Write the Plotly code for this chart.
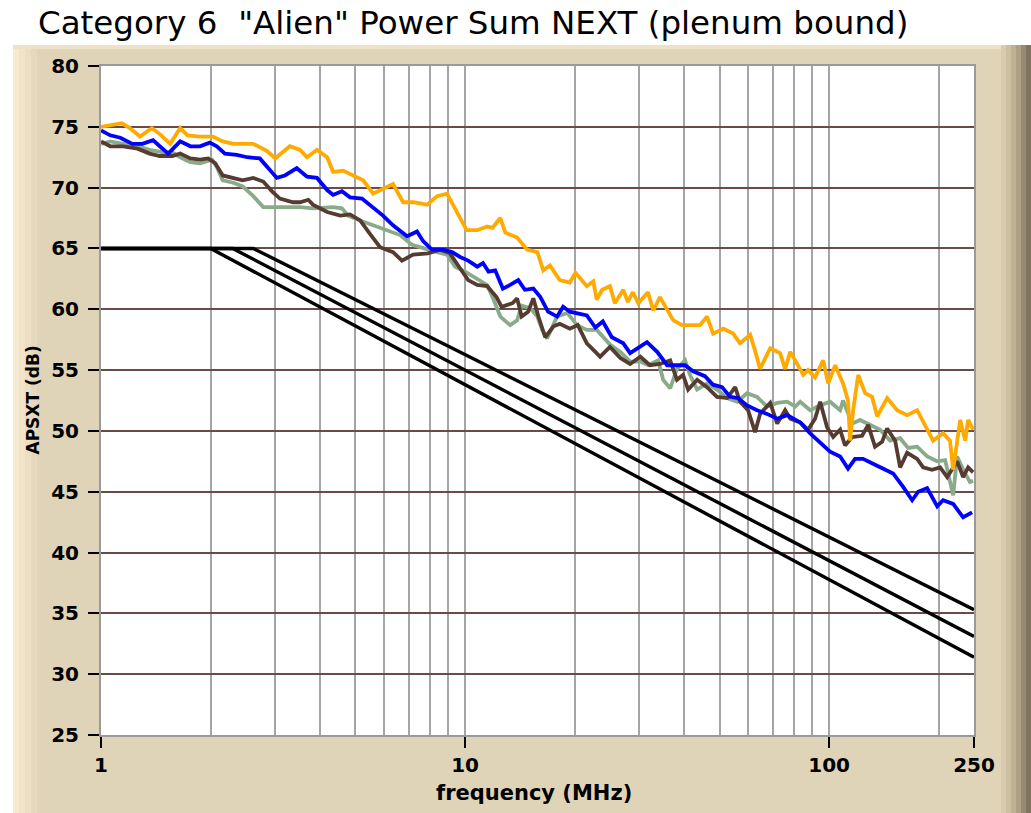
import plotly.graph_objects as go

# ---------------- data ----------------
orange_f = [1.0, 1.06, 1.14, 1.20, 1.28, 1.38, 1.45, 1.55, 1.65, 1.73, 1.87, 2.03, 2.16, 2.31, 2.62, 2.86,
            3.01, 3.30, 3.52, 3.68, 3.92, 4.18, 4.34, 4.62, 4.92, 5.25, 5.59, 5.95, 6.34, 6.76, 7.20, 7.87,
            8.38, 8.92, 9.51, 10.1, 10.8, 11.5, 11.9, 12.5, 12.9, 13.9, 14.8, 15.8, 16.4, 17.1, 18.2, 19.4,
            20.1, 21.6, 22.5, 23.0, 23.8, 25.0, 25.8, 27.2, 28.0, 28.9, 29.9, 31.8, 32.9, 34.3, 37.3, 39.4,
            41.5, 44.2, 46.2, 48.0, 51.2, 54.5, 56.9, 60.7, 62.6, 64.6, 68.9, 73.3, 75.7, 78.2, 80.7, 84.9,
            87.5, 91.5, 96.3, 99.4, 103.9, 109.2, 112.7, 114.2, 116.4, 120.2, 125.6, 131.2, 135.5, 144.3,
            153.7, 163.8, 174.5, 185.9, 193.0, 205.6, 214.8, 219.1, 224.7, 229.1, 236.4, 240.9, 248.6]
orange_db = [75.0, 75.1, 75.3, 74.9, 74.2, 74.9, 74.4, 73.6, 74.9, 74.3, 74.2, 74.2, 73.8, 73.6, 73.6, 73.0,
             72.4, 73.4, 73.1, 72.5, 73.1, 72.5, 71.3, 71.4, 71.0, 70.6, 69.5, 69.9, 70.3, 68.8, 68.8, 68.6,
             69.3, 69.5, 67.9, 66.5, 66.5, 66.8, 66.7, 67.5, 66.3, 65.9, 64.9, 64.7, 63.2, 63.6, 62.4, 62.2,
             63.0, 61.9, 62.3, 60.8, 61.6, 61.9, 60.5, 61.6, 60.6, 61.4, 60.5, 61.4, 59.9, 61.0, 59.1, 58.7,
             58.7, 58.7, 59.4, 58.0, 58.4, 58.0, 57.2, 57.9, 56.6, 55.1, 56.8, 56.4, 55.1, 56.5, 55.8, 54.6,
             55.0, 54.4, 55.8, 53.9, 55.4, 53.9, 52.5, 49.2, 51.7, 54.6, 53.1, 52.8, 51.2, 52.7,
             51.7, 51.3, 51.7, 50.1, 49.2, 49.8, 49.2, 46.8, 49.2, 50.9, 49.2, 50.9, 50.1]

blue_f = [1.0, 1.06, 1.13, 1.22, 1.30, 1.39, 1.45, 1.53, 1.65, 1.76, 1.87, 1.99, 2.08, 2.19, 2.36, 2.52,
          2.73, 2.86, 3.04, 3.20, 3.45, 3.68, 3.92, 4.18, 4.34, 4.59, 4.83, 5.21, 5.59, 5.95, 6.34, 6.93,
          7.38, 7.67, 8.11, 8.70, 9.21, 9.69, 10.2, 10.8, 11.2, 11.6, 12.1, 12.7, 13.3, 14.0, 14.6, 15.4,
          16.1, 16.9, 17.9, 18.6, 19.4, 20.3, 21.6, 22.8, 23.9, 25.3, 27.2, 28.4, 29.7, 31.6, 33.7, 35.9,
          38.2, 40.2, 42.3, 45.6, 48.0, 50.8, 53.5, 56.2, 59.5, 63.4, 67.5, 72.0, 76.7, 79.6, 83.3, 88.7,
          94.5, 100.6, 107.2, 112.7, 117.8, 123.9, 132.0, 140.7, 149.9, 159.7, 169.1, 175.6, 185.9, 198.1,
          205.6, 219.1, 233.4, 247.0]
blue_db = [74.7, 74.3, 74.1, 73.6, 73.6, 73.9, 73.4, 72.8, 73.8, 73.4, 73.4, 73.7, 73.4, 72.8, 72.7, 72.5,
           72.4, 71.7, 70.8, 71.0, 71.6, 70.9, 70.8, 69.8, 69.4, 69.7, 69.2, 69.1, 68.4, 67.7, 66.9, 66.0,
           66.4, 65.6, 64.9, 64.9, 64.7, 64.3, 64.0, 63.5, 63.8, 63.1, 63.2, 61.7, 62.0, 62.4, 61.6, 61.7,
           61.0, 59.8, 59.4, 60.2, 59.8, 59.7, 59.5, 58.5, 59.0, 57.7, 57.2, 56.4, 56.8, 57.3, 56.5, 55.4,
           55.4, 55.4, 54.9, 54.5, 53.8, 53.6, 52.8, 52.7, 52.1, 51.7, 51.4, 51.0, 51.3, 51.0, 50.7, 49.8,
           49.0, 48.3, 47.9, 46.9, 47.7, 47.7, 47.3, 46.9, 46.5, 45.4, 44.3, 45.0, 45.3, 43.8,
           44.3, 44.0, 42.9, 43.3]

brown_f = [1.0, 1.06, 1.15, 1.26, 1.36, 1.45, 1.57, 1.65, 1.76, 1.87, 1.97, 2.06, 2.16, 2.31, 2.45, 2.62,
           2.79, 2.95, 3.10, 3.37, 3.52, 3.71, 3.82, 4.18, 4.54, 4.83, 5.15, 5.48, 5.84, 6.34, 6.71, 7.20,
           7.91, 8.54, 9.09, 9.57, 10.2, 10.8, 11.5, 12.2, 12.6, 13.5, 13.9, 14.3, 14.9, 15.4, 15.9, 16.6,
           17.5, 18.2, 19.4, 20.4, 21.6, 22.8, 23.5, 25.0, 26.7, 28.4, 30.3, 32.2, 34.3, 36.6, 38.2, 39.7,
           41.0, 43.4, 46.2, 49.2, 52.5, 55.2, 56.9, 59.9, 62.6, 64.6, 68.9, 72.0, 75.7, 78.2, 83.3, 87.5,
           91.5, 94.5, 98.7, 102.6, 107.2, 110.6, 115.6, 123.2, 128.0, 133.7, 139.8, 144.3, 151.8, 156.7,
           163.8, 174.5, 181.2, 191.7, 201.8, 211.0, 224.7, 233.4, 240.9, 248.6]
brown_db = [73.8, 73.4, 73.4, 73.2, 72.8, 72.6, 72.6, 72.8, 72.4, 72.3, 72.4, 72.0, 71.0, 70.8, 70.6, 70.8,
            70.5, 69.7, 69.1, 68.8, 68.8, 69.0, 68.6, 68.0, 67.7, 67.8, 67.3, 66.2, 65.1, 64.7, 64.0, 64.5,
            64.6, 64.9, 64.6, 63.6, 62.4, 62.0, 61.9, 61.0, 60.2, 60.5, 60.9, 59.4, 59.8, 60.9, 59.4, 57.7,
            58.6, 58.8, 58.4, 58.7, 57.2, 56.5, 56.1, 56.9, 56.0, 55.5, 56.1, 55.4, 55.5, 55.8, 54.2, 54.6,
            53.4, 54.2, 53.6, 52.8, 52.7, 53.6, 52.4, 51.7, 49.9, 51.4, 52.3, 50.6, 51.7, 51.0, 50.7, 50.1,
            51.0, 52.4, 50.3, 49.5, 50.1, 48.8, 49.5, 49.6, 50.5, 48.7, 49.1, 50.2, 49.2, 47.0,
            48.2, 47.7, 47.0, 46.8, 47.0, 46.2, 47.5, 46.2, 47.0, 46.6]

green_f = [1.0, 1.06, 1.15, 1.26, 1.36, 1.48, 1.57, 1.65, 1.76, 1.87, 2.02, 2.08, 2.16, 2.31, 2.45, 2.62,
           2.79, 3.10, 3.52, 3.82, 4.34, 4.59, 4.77, 5.15, 5.59, 6.11, 6.63, 7.15, 7.67, 8.38, 8.92, 9.39,
           10.0, 10.8, 11.5, 11.9, 12.5, 13.3, 13.9, 14.3, 15.1, 15.8, 16.3, 16.8, 17.9, 19.1, 20.3, 21.6,
           23.0, 23.5, 25.0, 26.7, 28.4, 30.3, 31.8, 33.9, 35.0, 36.6, 38.2, 40.2, 41.5, 43.4, 46.2, 49.2,
           52.5, 55.9, 59.5, 63.4, 67.5, 72.0, 76.7, 80.7, 83.3, 88.7, 94.5, 100.6, 107.2, 109.2, 115.6,
           121.6, 129.6, 138.1, 147.1, 156.7, 164.8, 174.5, 185.9, 198.1, 208.3, 219.1, 224.7, 233.4,
           243.8, 248.6]
green_db = [73.6, 73.8, 73.6, 73.4, 73.1, 72.9, 72.9, 72.5, 72.1, 72.0, 72.3, 71.7, 70.6, 70.4, 70.1, 69.3,
            68.4, 68.4, 68.4, 68.3, 68.4, 68.3, 67.7, 67.3, 66.9, 66.5, 66.1, 65.3, 65.0, 64.7, 64.5, 63.5,
            63.1, 62.5, 62.0, 61.0, 59.4, 58.7, 59.1, 60.3, 60.1, 59.4, 58.3, 57.6, 59.4, 59.7, 58.7, 58.3,
            58.3, 58.0, 57.1, 56.5, 55.7, 55.7, 55.4, 55.8, 54.2, 53.5, 55.1, 55.8, 54.6, 53.4, 53.9, 53.4,
            52.7, 52.4, 53.1, 52.8, 52.0, 52.3, 52.4, 52.0, 52.4, 51.7, 52.1, 52.4, 51.7, 52.5, 50.6,
            50.9, 50.5, 50.1, 49.2, 49.4, 48.6, 48.7, 47.9, 47.5, 47.6, 44.7, 47.9, 46.8,
            45.8, 45.9]

# three limit lines: (frequency, dB) vertices
limit_f = [[1.0, 2.62, 250.0], [1.0, 2.30, 250.0], [1.0, 2.0, 250.0]]
limit_db = [[65.0, 65.0, 35.3], [65.0, 65.0, 33.1], [65.0, 65.0, 31.4]]

x_tickvals = [1, 10, 100, 250]
x_ticktext = ["1", "10", "100", "250"]
x_minor = [2, 3, 4, 5, 6, 7, 8, 9, 20, 30, 40, 50, 60, 70, 80, 90, 200]
y_tickvals = [25, 30, 35, 40, 45, 50, 55, 60, 65, 70, 75, 80]

title_text = 'Category 6  "Alien" Power Sum NEXT (plenum bound)'
x_title = "frequency (MHz)"
y_title = "APSXT (dB)"

# ---------------- figure ----------------
fig = go.Figure()

for fx, fy in zip(limit_f, limit_db):
    fig.add_trace(go.Scatter(x=fx, y=fy, mode="lines",
                             line=dict(color="black", width=3.4), hoverinfo="skip"))

series = [
    (green_f, green_db, "#8aab8a"),
    (brown_f, brown_db, "#553b30"),
    (blue_f, blue_db, "#0000ff"),
    (orange_f, orange_db, "#ffaa00"),
]
for fx, fy, col in series:
    fig.add_trace(go.Scatter(x=fx, y=fy, mode="lines",
                             line=dict(color=col, width=3.8, shape="linear")))

W, H = 1031, 813
L, R, T, B = 101, 974, 66, 735


def px(xp):
    return (xp - L) / (R - L)


def py(yp):
    return (B - yp) / (B - T)


shapes = []
# tan panel
shapes.append(dict(type="rect", xref="paper", yref="paper", layer="below",
                   x0=px(13), x1=px(1031), y0=py(813), y1=py(45),
                   fillcolor="#e0d4b8", line=dict(width=0)))
# left light gradient strip
left_cols = ["#f6ead0", "#f1e4c8", "#ebdec2", "#e5d8bc"]
for i, c in enumerate(left_cols):
    shapes.append(dict(type="rect", xref="paper", yref="paper", layer="below",
                       x0=px(13 + i * 6), x1=px(19 + i * 6), y0=py(813), y1=py(45),
                       fillcolor=c, line=dict(width=0)))
# top light edge
shapes.append(dict(type="rect", xref="paper", yref="paper", layer="below",
                   x0=px(13), x1=px(1031), y0=py(49), y1=py(45),
                   fillcolor="#ede2c8", line=dict(width=0)))
# right dark gradient strip
right_cols = ["#d8cbae", "#cdbfa2", "#bfb194", "#ad9f83", "#978a70", "#80745e"]
for i, c in enumerate(right_cols):
    shapes.append(dict(type="rect", xref="paper", yref="paper", layer="below",
                       x0=px(1001 + i * 5), x1=px(1006 + i * 5), y0=py(813), y1=py(45),
                       fillcolor=c, line=dict(width=0)))
# white plot area
shapes.append(dict(type="rect", xref="paper", yref="paper", layer="below",
                   x0=0, x1=1, y0=0, y1=1, fillcolor="white", line=dict(width=0)))

tickfont = dict(family="DejaVu Sans", size=20, color="black", weight="bold")

fig.update_layout(
    width=W, height=H,
    margin=dict(l=L, r=W - R, t=T, b=H - B, pad=0),
    paper_bgcolor="white",
    plot_bgcolor="white",
    showlegend=False,
    shapes=shapes,
    title=dict(text=title_text, font=dict(family="DejaVu Sans", size=32.5, color="black"),
               xref="container", x=38 / W, xanchor="left",
               yref="container", y=1 - 23 / H, yanchor="middle"),
    annotations=[
        dict(text=y_title, xref="paper", yref="paper", x=px(32), y=0.5, textangle=-90,
             showarrow=False, xanchor="center", yanchor="middle",
             font=dict(family="DejaVu Sans", size=17, color="black", weight="bold")),
        dict(text=x_title, xref="paper", yref="paper", x=px(534), y=py(793),
             showarrow=False, xanchor="center", yanchor="middle",
             font=dict(family="DejaVu Sans", size=21, color="black", weight="bold")),
    ],
)

fig.update_xaxes(
    type="log", range=[0, 2.39794], tickmode="array",
    tickvals=x_tickvals, ticktext=x_ticktext,
    ticks="outside", ticklen=11, tickwidth=2, tickcolor="black",
    tickfont=tickfont,
    showgrid=True, gridcolor="#a5a5a5", gridwidth=2,
    minor=dict(tickmode="array", tickvals=x_minor, showgrid=True,
               gridcolor="#a5a5a5", gridwidth=2, ticks=""),
    showline=True, linecolor="#9a9a9a", linewidth=2, mirror=True,
    zeroline=False, fixedrange=True,
)
fig.update_yaxes(
    range=[25, 80], tickmode="array", tickvals=y_tickvals,
    ticks="outside", ticklen=11, tickwidth=2, tickcolor="black",
    tickfont=tickfont, ticklabelstandoff=5,
    showgrid=True, gridcolor="#6b4a4a", gridwidth=1.5,
    showline=True, linecolor="#9a9a9a", linewidth=2, mirror=True,
    zeroline=False, fixedrange=True,
)

fig.write_html("out.html", config={"displayModeBar": False},
               post_script="document.body.style.margin='0';document.body.style.overflow='hidden';")
